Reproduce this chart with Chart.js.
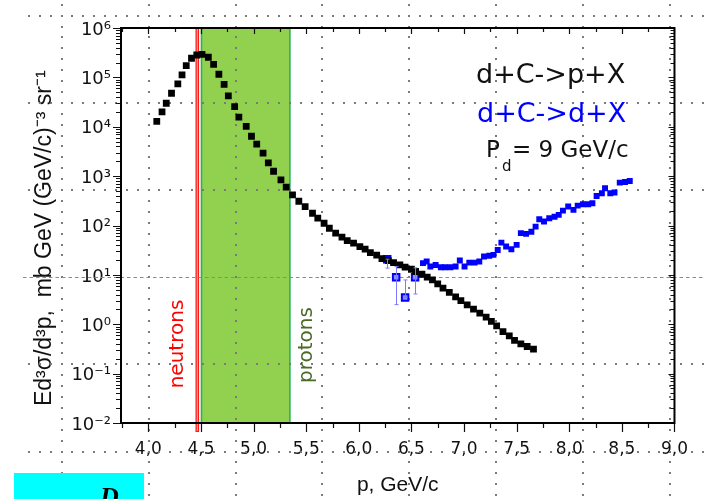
<!DOCTYPE html>
<html>
<head>
<meta charset="utf-8">
<script src="https://cdn.jsdelivr.net/npm/chart.js@4.4.1/dist/chart.umd.min.js"></script>
<style>
  html, body { margin: 0; padding: 0; background: #fff; }
  #wrap { width: 704px; height: 499px; position: relative; }
</style>
</head>
<body>
<div id="wrap"><canvas id="myChart"></canvas></div>
<script>
// d+C->p+X  (black squares), p in GeV/c
var protonP = [4.08, 4.13, 4.17, 4.22, 4.28, 4.32, 4.36, 4.41, 4.46, 4.51,
  4.57, 4.62, 4.67, 4.72, 4.76, 4.82, 4.86, 4.93, 4.98, 5.03,
  5.09, 5.14, 5.19, 5.26, 5.31, 5.37, 5.43, 5.49,
  5.56, 5.61, 5.67, 5.72, 5.78, 5.84, 5.89, 5.95, 6.01, 6.06,
  6.11, 6.17, 6.22, 6.28, 6.33, 6.39, 6.44, 6.50, 6.54, 6.60,
  6.65, 6.70, 6.75, 6.80, 6.86, 6.92, 6.97, 7.03, 7.09, 7.15,
  7.21, 7.26, 7.31, 7.37, 7.43, 7.48, 7.54, 7.60, 7.66];
var protonXs = [12900, 19950, 29900, 47700, 73500, 112000, 172600, 243800, 284000, 293600,
  255400, 184000, 115600, 72500, 42000, 25500, 15600, 10200, 6420, 4430,
  2910, 1850, 1256, 838, 596, 416, 310, 241,
  177, 141, 111, 88, 70, 58, 49.5, 43.8, 37.4, 33.1,
  28.3, 25.0, 21.4, 19.5, 17.7, 15.9, 14.3, 13.0, 11.7, 10.3,
  9.0, 7.9, 6.6, 5.4, 4.4, 3.6, 3.0, 2.47, 2.02, 1.68,
  1.39, 1.14, 0.93, 0.71, 0.58, 0.47, 0.40, 0.354, 0.313];

// d+C->d+X  (blue squares)
var deutP = [6.61, 6.645, 6.68, 6.73, 6.78, 6.82, 6.87, 6.92, 6.96, 7.005,
  7.05, 7.10, 7.145, 7.19, 7.24, 7.28, 7.32, 7.355, 7.40, 7.45,
  7.50, 7.54, 7.59, 7.64, 7.68, 7.715, 7.76, 7.81, 7.86, 7.90,
  7.94, 7.99, 8.04, 8.08, 8.13, 8.18, 8.22, 8.26, 8.31, 8.34,
  8.39, 8.43, 8.48, 8.53, 8.575];
var deutXs = [17.3, 18.6, 14.8, 15.9, 14.3, 14.3, 14.3, 14.8, 19.5, 14.8,
  17.7, 17.7, 18.6, 23.5, 24.3, 25.4, 32, 45, 37.4, 33,
  40.5, 70, 67.6, 75, 95, 134, 120, 140, 151, 164,
  200, 242, 207, 253, 270, 270, 283, 397, 450, 569,
  450, 464, 738, 763, 800];

// first deuteron points, with error bars
var deutErrP = [6.27, 6.355, 6.44, 6.535];
var deutErrXs = [20.8, 9.0, 3.5, 9.0];
var deutErrLo = [13.7, 2.5, 3.5, 4.1];
var deutErrHi = [20.8, 14.7, 7.9, 13.9];

var xTicks = [4.0, 4.5, 5.0, 5.5, 6.0, 6.5, 7.0, 7.5, 8.0, 8.5, 9.0];
var yTicks = [1e-2, 1e-1, 1e0, 1e1, 1e2, 1e3, 1e4, 1e5, 1e6];
var neutronP = 4.465;          // red line
var protonBand = [4.5, 5.345]; // green band

var sup = { '-': '\u207B', '0': '\u2070', '1': '\u00B9', '2': '\u00B2', '3': '\u00B3',
  '4': '\u2074', '5': '\u2075', '6': '\u2076', '7': '\u2077', '8': '\u2078', '9': '\u2079' };
function powLabel(v) {
  var e = String(Math.round(Math.log10(v)));
  return '10' + e.split('').map(function (c) { return sup[c]; }).join('');
}

var paper = {
  id: 'paper',
  beforeDatasetsDraw: function (chart) {
    var ctx = chart.ctx, a = chart.chartArea, xs = chart.scales.x;
    ctx.save();
    // proton band
    var x1 = xs.getPixelForValue(protonBand[0]), x2 = xs.getPixelForValue(protonBand[1]);
    ctx.fillStyle = '#92d050';
    ctx.fillRect(x1, a.top, x2 - x1, a.bottom - a.top);
    ctx.strokeStyle = '#25b45a';
    ctx.lineWidth = 1.6;
    ctx.beginPath();
    ctx.moveTo(x1 + 0.5, a.top); ctx.lineTo(x1 + 0.5, a.bottom);
    ctx.moveTo(x2, a.top); ctx.lineTo(x2, a.bottom);
    ctx.stroke();
    // neutron line
    var xn = xs.getPixelForValue(neutronP);
    ctx.strokeStyle = '#ff1a1a';
    ctx.lineWidth = 3.6;
    ctx.beginPath(); ctx.moveTo(xn, a.top); ctx.lineTo(xn, a.bottom + 9); ctx.stroke();
    ctx.strokeStyle = '#ffb3b3';
    ctx.lineWidth = 1;
    ctx.beginPath(); ctx.moveTo(xn, a.top + 1); ctx.lineTo(xn, a.bottom + 8); ctx.stroke();

    // slide guide dots
    ctx.fillStyle = '#7a7a7a';
    var cols = [62, 149, 235.5, 322.3, 409.3, 496, 582.7, 669.5];
    var rows = [15.5, 102.7, 189.9, 364.3, 451.5];
    rows.forEach(function (y) {
      for (var x = 28; x < 704; x += 10.87) ctx.fillRect(Math.round(x), Math.round(y) - 1, 2, 2);
    });
    cols.forEach(function (x) {
      for (var y = 3.7; y < 499; y += 10.9) ctx.fillRect(Math.round(x) - 1, Math.round(y), 2, 2);
    });
    ctx.strokeStyle = '#8a8a8a';
    ctx.lineWidth = 1;
    ctx.setLineDash([3.5, 3]);
    ctx.beginPath(); ctx.moveTo(23, 277.5); ctx.lineTo(704, 277.5); ctx.stroke();
    ctx.setLineDash([]);

    // band labels
    ctx.font = '20px "DejaVu Sans"';
    ctx.textAlign = 'center';
    ctx.textBaseline = 'middle';
    ctx.fillStyle = '#ff0000';
    ctx.translate(178, 344); ctx.rotate(-Math.PI / 2);
    ctx.fillText('neutrons', 0, 0);
    ctx.setTransform(1, 0, 0, 1, 0, 0);
    ctx.fillStyle = '#4a6a26';
    ctx.translate(307, 345); ctx.rotate(-Math.PI / 2);
    ctx.fillText('protons', 0, 0);
    ctx.restore();
  },
  afterDatasetsDraw: function (chart) {
    var ctx = chart.ctx, xs = chart.scales.x, ys = chart.scales.y;
    ctx.save();
    ctx.strokeStyle = '#7b7bff';
    ctx.lineWidth = 1;
    ctx.beginPath();
    for (var i = 0; i < deutErrP.length; i++) {
      var px = Math.round(xs.getPixelForValue(deutErrP[i])) + 0.5;
      var lo = ys.getPixelForValue(deutErrLo[i]), hi = ys.getPixelForValue(deutErrHi[i]);
      ctx.moveTo(px, lo); ctx.lineTo(px, hi);
      ctx.moveTo(px - 2, lo); ctx.lineTo(px + 2, lo);
      ctx.moveTo(px - 2, hi); ctx.lineTo(px + 2, hi);
    }
    ctx.stroke();
    ctx.restore();
  },
  afterDraw: function (chart) {
    var ctx = chart.ctx, a = chart.chartArea, xs = chart.scales.x, ys = chart.scales.y;
    ctx.save();
    // ticks on all four sides
    ctx.strokeStyle = '#111';
    ctx.lineWidth = 1.2;
    ctx.beginPath();
    for (var k = 0; k <= 21; k++) {
      var v = 3.75 + k * 0.25;
      if (v < xs.min) continue;
      var px = Math.round(xs.getPixelForValue(v)) + 0.5;
      var major = k % 2 === 1;
      ctx.moveTo(px, a.bottom); ctx.lineTo(px, a.bottom + (major ? 9 : 5));
      ctx.moveTo(px, a.top); ctx.lineTo(px, a.top + (major ? 6 : 4));
    }
    for (var e = -2; e <= 6; e++) {
      for (var m = 1; m <= 9; m++) {
        var val = m * Math.pow(10, e);
        if (val > ys.max * 1.0001) break;
        var py = Math.round(ys.getPixelForValue(val)) + 0.5;
        ctx.moveTo(a.left, py); ctx.lineTo(a.left - (m === 1 ? 8 : 5), py);
        ctx.moveTo(a.right, py); ctx.lineTo(a.right - (m === 1 ? 6 : 4), py);
      }
    }
    ctx.stroke();
    ctx.lineWidth = 2;
    ctx.strokeStyle = '#000';
    ctx.strokeRect(a.left, a.top, a.right - a.left, a.bottom - a.top);

    // legend text
    ctx.textAlign = 'left';
    ctx.textBaseline = 'alphabetic';
    ctx.font = '27px "DejaVu Sans"';
    ctx.fillStyle = '#111';
    ctx.fillText('d+C->p+X', 476, 83);
    ctx.fillStyle = '#0000ff';
    ctx.fillText('d+C->d+X', 477, 122);
    ctx.fillStyle = '#111';
    ctx.font = '23px "DejaVu Sans"';
    ctx.fillText('P', 486, 157);
    ctx.font = '15px "DejaVu Sans"';
    ctx.fillText('d', 502, 171);
    ctx.font = '23px "DejaVu Sans"';
    ctx.fillText('= 9 GeV/c', 512, 157);

    // cyan box at the bottom left
    ctx.fillStyle = '#00ffff';
    ctx.fillRect(14, 473, 130, 26);
    ctx.fillStyle = '#000';
    ctx.font = 'italic bold 26px "Liberation Serif"';
    ctx.fillText('D', 100, 505);
    ctx.restore();
  }
};

new Chart('myChart', {
  type: 'scatter',
  data: {
    datasets: [
      {
        label: 'd+C->p+X',
        data: protonP.map(function (p, i) { return { x: p, y: protonXs[i] }; }),
        pointStyle: 'rect',
        pointRadius: 4.8,
        backgroundColor: '#000',
        borderWidth: 0
      },
      {
        label: 'd+C->d+X',
        data: deutP.map(function (p, i) { return { x: p, y: deutXs[i] }; }),
        pointStyle: 'rect',
        pointRadius: 4.2,
        backgroundColor: '#0000ff',
        borderWidth: 0
      },
      {
        label: 'd+C->d+X (err)',
        data: deutErrP.map(function (p, i) { return { x: p, y: deutErrXs[i] }; }),
        pointStyle: 'rect',
        pointRadius: 4.6,
        backgroundColor: ['#0000ff', '#8f8fff', '#8f8fff', '#8f8fff'],
        borderColor: '#0000ff',
        borderWidth: 2
      }
    ]
  },
  options: {
    animation: false,
    responsive: true,
    maintainAspectRatio: false,
    layout: { padding: { top: 28, right: 22, left: 0, bottom: 0 } },
    plugins: { legend: { display: false }, tooltip: { enabled: false } },
    scales: {
      x: {
        type: 'linear',
        min: 3.74,
        max: 9.0,
        afterBuildTicks: function (s) { s.ticks = xTicks.map(function (v) { return { value: v }; }); },
        afterFit: function (s) { s.height = 76; },
        grid: { display: false, drawTicks: false },
        border: { display: false },
        ticks: {
          padding: 16,
          color: '#111',
          maxRotation: 0,
          autoSkip: false,
          font: { family: 'DejaVu Sans', size: 17 },
          callback: function (v) { return Number(v).toFixed(1).replace('.', ','); }
        },
        title: {
          display: true,
          text: 'p, GeV/c',
          color: '#111',
          font: { family: 'Liberation Sans', size: 21 },
          padding: { top: 0, bottom: 1 }
        }
      },
      y: {
        type: 'logarithmic',
        min: 1e-2,
        max: 1e6,
        afterBuildTicks: function (s) { s.ticks = yTicks.map(function (v) { return { value: v }; }); },
        afterFit: function (s) { s.width = 121; },
        grid: { display: false, drawTicks: false },
        border: { display: false },
        ticks: {
          padding: 10,
          labelOffset: 2,
          color: '#111',
          autoSkip: false,
          font: { family: 'DejaVu Sans', size: 18 },
          callback: function (v) { return powLabel(v); }
        },
        title: {
          display: true,
          text: 'Ed\u00B3\u03C3/d\u00B3p,  mb GeV (GeV/c)\u207B\u00B3 sr\u207B\u00B9    ',
          color: '#111',
          font: { family: 'Liberation Sans', size: 23 },
          padding: { top: 31, bottom: 0 }
        }
      }
    }
  },
  plugins: [paper]
});
</script>
</body>
</html>
